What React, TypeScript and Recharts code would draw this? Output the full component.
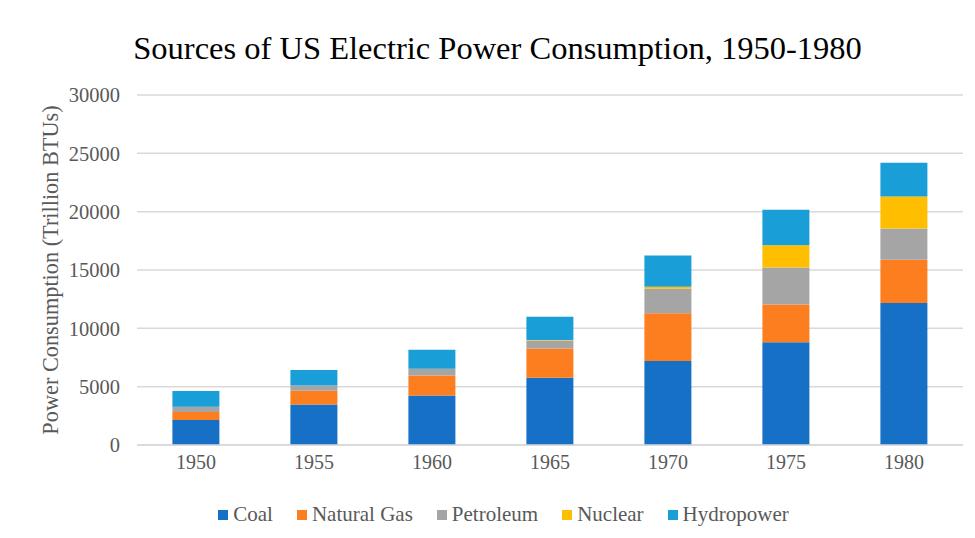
import React from 'react';
import { BarChart, Bar, XAxis, YAxis, CartesianGrid, Legend } from 'recharts';

const years = ['1950', '1955', '1960', '1965', '1970', '1975', '1980'];
const coal = [2140, 3480, 4250, 5760, 7210, 8800, 12170];
const naturalGas = [680, 1170, 1710, 2510, 4080, 3250, 3700];
const petroleum = [460, 460, 570, 680, 2110, 3160, 2680];
const nuclear = [0, 0, 10, 40, 170, 1910, 2760];
const hydropower = [1340, 1310, 1620, 2010, 2680, 3050, 2880];
const yTicks = [0, 5000, 10000, 15000, 20000, 25000, 30000];

const series = [
  { key: 'coal', name: 'Coal', color: '#1570C6' },
  { key: 'gas', name: 'Natural Gas', color: '#FD7E1F' },
  { key: 'petroleum', name: 'Petroleum', color: '#A5A5A5' },
  { key: 'nuclear', name: 'Nuclear', color: '#FFBF00' },
  { key: 'hydro', name: 'Hydropower', color: '#199ED7' },
];

const data = years.map((year, i) => ({
  year,
  coal: coal[i],
  gas: naturalGas[i],
  petroleum: petroleum[i],
  nuclear: nuclear[i],
  hydro: hydropower[i],
}));

const FONT = '"Liberation Serif", "Times New Roman", serif';

const LegendRow = () => (
  <div
    style={{
      display: 'flex',
      justifyContent: 'center',
      gap: 24,
      paddingLeft: 32,
      fontFamily: FONT,
      fontSize: 21,
      color: '#595959',
    }}
  >
    {series.map((s) => (
      <div key={s.key} style={{ display: 'flex', alignItems: 'center' }}>
        <span style={{ width: 10, height: 10, background: s.color, display: 'inline-block', marginRight: 5 }} />
        <span>{s.name}</span>
      </div>
    ))}
  </div>
);

// rotated axis title, drawn by hand so the serif font sticks
const YTitle = (props: any) => {
  const { viewBox } = props;
  const cx = 50;
  const cy = viewBox.y + viewBox.height / 2;
  return (
    <text
      x={cx}
      y={cy}
      transform={`rotate(-90, ${cx}, ${cy})`}
      textAnchor="middle"
      dominantBaseline="central"
      fontFamily={FONT}
      fontSize={22.3}
      fill="#595959"
    >
      Power Consumption (Trillion BTUs)
    </text>
  );
};

const App = () => {
  return (
    <div style={{ position: 'absolute', left: 0, top: 0, width: 975, height: 538, background: '#fff' }}>
      <div
        style={{
          position: 'absolute',
          top: 30,
          left: 0,
          width: 995,
          textAlign: 'center',
          fontFamily: FONT,
          fontSize: 32.5,
          color: '#000',
        }}
      >
        Sources of US Electric Power Consumption, 1950-1980
      </div>
      <BarChart
        width={975}
        height={538}
        data={data}
        margin={{ top: 95, right: 12, left: 0, bottom: 28 }}
        barCategoryGap="30%"
      >
        <CartesianGrid vertical={false} stroke="#d9d9d9" strokeWidth={1.5} />
        <XAxis
          dataKey="year"
          height={40}
          tickLine={false}
          tickSize={0}
          tickMargin={10}
          axisLine={{ stroke: '#d9d9d9', strokeWidth: 1.5 }}
          tick={{ fontFamily: FONT, fontSize: 20, fill: '#595959' }}
        />
        <YAxis
          width={137}
          domain={[0, 30000]}
          ticks={yTicks}
          axisLine={false}
          tickLine={false}
          tickSize={0}
          tickMargin={17}
          tick={{ fontFamily: FONT, fontSize: 20.5, fill: '#595959' }}
          label={<YTitle />}
        />
        <Legend
          verticalAlign="bottom"
          content={() => <LegendRow />}
          wrapperStyle={{ position: 'absolute', top: 502, left: 0, width: 975 }}
        />
        {series.map((s) => (
          <Bar key={s.key} dataKey={s.key} name={s.name} stackId="a" fill={s.color} isAnimationActive={false} />
        ))}
      </BarChart>
    </div>
  );
};

export default App;
